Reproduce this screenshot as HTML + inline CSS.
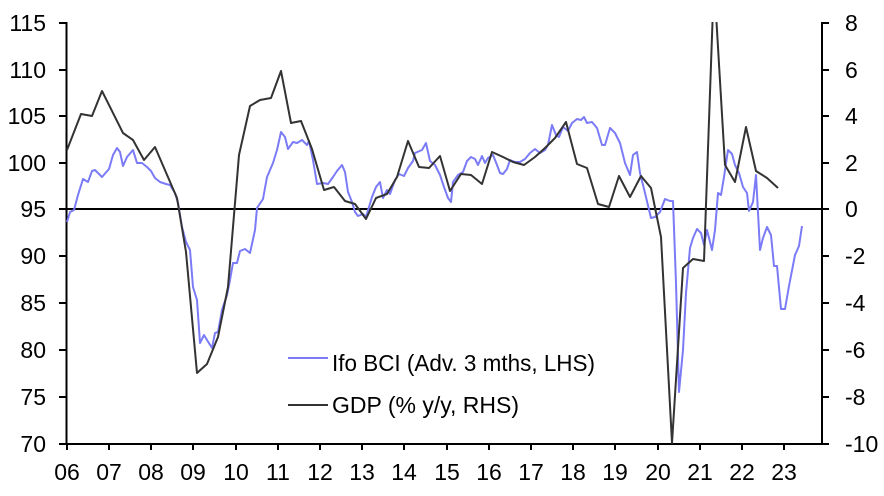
<!DOCTYPE html>
<html><head><meta charset="utf-8"><style>
body{margin:0;background:#fff}
svg text{font-family:"Liberation Sans",Arial,sans-serif;font-size:23px;fill:#000}
</style></head><body>
<svg width="884" height="491" viewBox="0 0 884 491" xmlns="http://www.w3.org/2000/svg">
<defs><clipPath id="c"><rect x="66" y="22" width="756" height="423"/></clipPath></defs>
<g stroke="#000" stroke-width="2" fill="none">
<line x1="66.5" y1="22" x2="66.5" y2="445"/>
<line x1="822" y1="22" x2="822" y2="445"/>
<line x1="66" y1="444" x2="822" y2="444"/>
<line x1="66" y1="209" x2="822" y2="209"/>
</g>
<g stroke="#000" stroke-width="2">
<line x1="59" y1="23" x2="66" y2="23"/><line x1="59" y1="70" x2="66" y2="70"/><line x1="59" y1="116" x2="66" y2="116"/><line x1="59" y1="163" x2="66" y2="163"/><line x1="59" y1="209" x2="66" y2="209"/><line x1="59" y1="256" x2="66" y2="256"/><line x1="59" y1="303" x2="66" y2="303"/><line x1="59" y1="350" x2="66" y2="350"/><line x1="59" y1="397" x2="66" y2="397"/><line x1="59" y1="444" x2="66" y2="444"/>
<line x1="822" y1="23" x2="829" y2="23"/><line x1="822" y1="70" x2="829" y2="70"/><line x1="822" y1="116" x2="829" y2="116"/><line x1="822" y1="163" x2="829" y2="163"/><line x1="822" y1="209" x2="829" y2="209"/><line x1="822" y1="256" x2="829" y2="256"/><line x1="822" y1="303" x2="829" y2="303"/><line x1="822" y1="350" x2="829" y2="350"/><line x1="822" y1="397" x2="829" y2="397"/><line x1="822" y1="444" x2="829" y2="444"/>
<line x1="67" y1="444" x2="67" y2="450"/><line x1="109" y1="444" x2="109" y2="450"/><line x1="151" y1="444" x2="151" y2="450"/><line x1="193" y1="444" x2="193" y2="450"/><line x1="236" y1="444" x2="236" y2="450"/><line x1="278" y1="444" x2="278" y2="450"/><line x1="320" y1="444" x2="320" y2="450"/><line x1="362" y1="444" x2="362" y2="450"/><line x1="404" y1="444" x2="404" y2="450"/><line x1="447" y1="444" x2="447" y2="450"/><line x1="489" y1="444" x2="489" y2="450"/><line x1="531" y1="444" x2="531" y2="450"/><line x1="573" y1="444" x2="573" y2="450"/><line x1="615" y1="444" x2="615" y2="450"/><line x1="658" y1="444" x2="658" y2="450"/><line x1="700" y1="444" x2="700" y2="450"/><line x1="742" y1="444" x2="742" y2="450"/><line x1="784" y1="444" x2="784" y2="450"/>
</g>
<g text-anchor="end">
<text x="46" y="31">115</text><text x="46" y="78">110</text><text x="46" y="124">105</text><text x="46" y="171">100</text><text x="46" y="217">95</text><text x="46" y="264">90</text><text x="46" y="311">85</text><text x="46" y="358">80</text><text x="46" y="405">75</text><text x="46" y="452">70</text>
</g>
<g text-anchor="start">
<text x="845" y="31">8</text><text x="845" y="78">6</text><text x="845" y="124">4</text><text x="845" y="171">2</text><text x="845" y="217">0</text><text x="845" y="264">-2</text><text x="845" y="311">-4</text><text x="845" y="358">-6</text><text x="845" y="405">-8</text><text x="845" y="452">-10</text>
</g>
<g text-anchor="middle" style="font-size:24px">
<text x="67" y="480">06</text><text x="109" y="480">07</text><text x="151" y="480">08</text><text x="193" y="480">09</text><text x="236" y="480">10</text><text x="278" y="480">11</text><text x="320" y="480">12</text><text x="362" y="480">13</text><text x="404" y="480">14</text><text x="447" y="480">15</text><text x="489" y="480">16</text><text x="531" y="480">17</text><text x="573" y="480">18</text><text x="615" y="480">19</text><text x="658" y="480">20</text><text x="700" y="480">21</text><text x="742" y="480">22</text><text x="784" y="480">23</text>
</g>
<g clip-path="url(#c)" fill="none" stroke-width="2" stroke-linejoin="round">
<polyline stroke="#7b7bf7" points="67,222 70,212 74,210 78,195 83,179 88,182 92,171 95,170 102,177 109,169 113,155 117,148 120,152 123,166 127,157 133,150 137,163 142,163 147,167 151,171 155,178 160,182 166,184 170,185 175,193 178,203 182,227 186,242 190,250 193,287 197,300 200,343 204,335 207,340 212,348 215,333 218,332 222,310 227,295 230,280 233,263 237,263 240,251 245,249 250,253 255,230 257,208 263,199 267,177 273,163 277,150 281,132 285,137 288,149 293,142 297,143 302,140 307,145 309,141 313,160 317,184 323,183 328,184 333,177 337,171 342,165 345,172 348,192 352,202 355,212 358,216 363,214 366,217 372,197 376,187 380,182 383,198 387,190 390,194 395,180 399,174 404,176 408,168 413,161 415,153 422,150 426,143 430,161 435,165 440,175 444,187 448,198 451,202 453,182 458,175 463,172 467,161 471,157 475,159 478,165 482,156 485,163 488,158 493,155 497,165 500,173 503,174 507,169 510,160 515,162 520,162 525,159 530,153 535,149 540,153 545,150 548,145 552,125 556,135 559,137 563,127 568,131 572,123 577,119 581,120 584,117 587,123 592,122 597,128 602,145 605,145 610,128 615,133 620,143 625,163 630,175 633,155 637,152 640,173 645,193 651,218 655,217 660,212 665,199 670,201 673,201 676,283 679,392 683,350 686,293 690,248 693,238 697,229 701,233 704,245 707,230 712,250 715,230 718,193 721,195 724,177 728,150 732,154 735,165 739,173 743,187 747,193 749,211 753,202 756,175 760,250 763,238 767,227 771,235 774,266 777,266 781,309 785,309 789,286 795,255 799,246 802,226"/>
<polyline stroke="#333" points="67,150 81,114 92,116 102,91 123,133 133,140 144,160 155,147 177,198 186,252 197,373 207,364 218,337 228,287 239,155 250,106 260,100 271,98 281,71 291,123 301,121 312,149 324,190 334,187 345,201 355,204 366,219 376,198 387,194 397,177 408,141 419,167 429,168 440,156 450,191 461,174 471,175 482,184 492,152 503,157 513,162 524,165 535,157 545,148 555,138 566,122 577,164 587,168 598,204 609,207 619,176 630,197 641,176 651,188 661,237 672,443 683,268 693,259 704,261 714,-20 725,165 735,182 746,127 756,171 767,178 778,188"/>
</g>
<line x1="288" y1="358" x2="328" y2="358" stroke="#7b7bf7" stroke-width="2"/>
<text x="332" y="371" textLength="263" lengthAdjust="spacingAndGlyphs">Ifo BCI (Adv. 3 mths, LHS)</text>
<line x1="288" y1="405" x2="328" y2="405" stroke="#333" stroke-width="2"/>
<text x="332" y="413" textLength="187" lengthAdjust="spacingAndGlyphs">GDP (% y/y, RHS)</text>
</svg>
</body></html>
